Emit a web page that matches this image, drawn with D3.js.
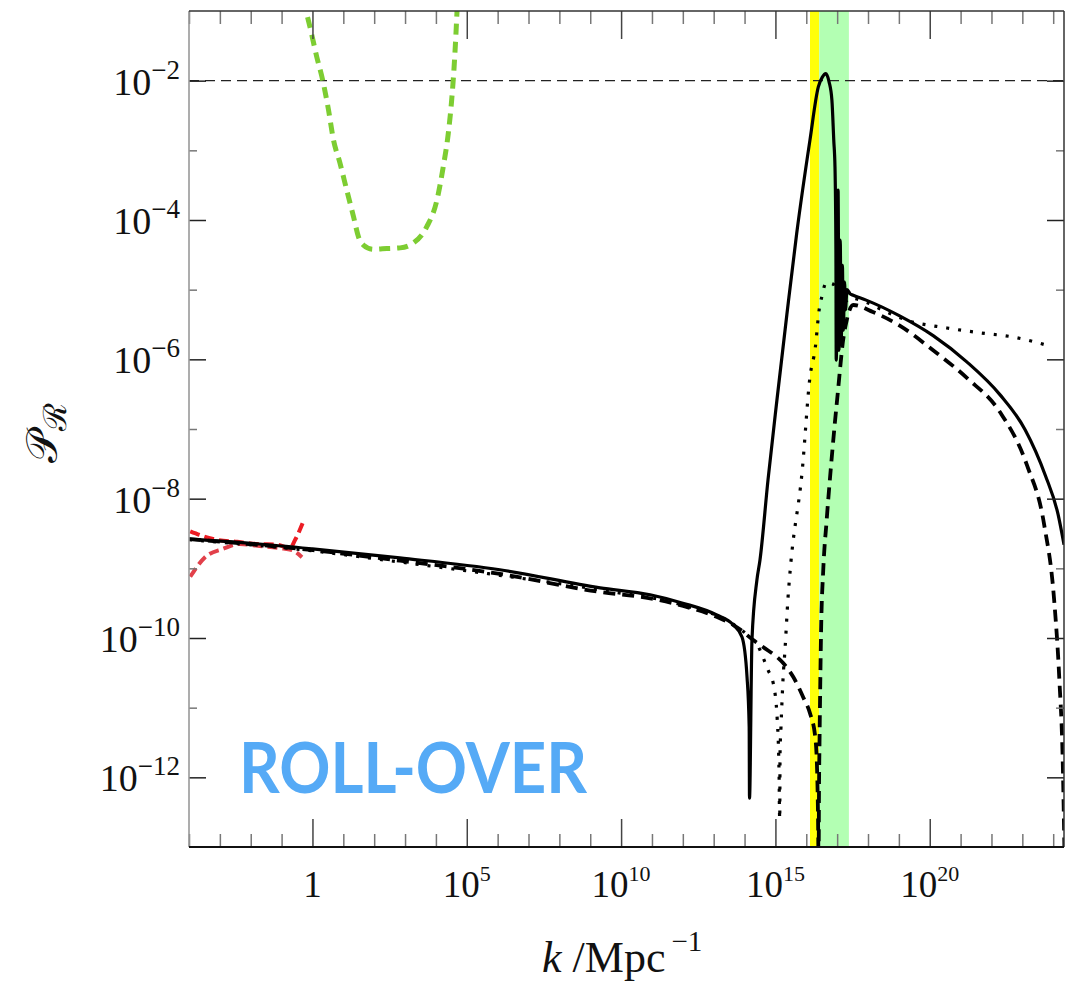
<!DOCTYPE html>
<html><head><meta charset="utf-8">
<script src="https://cdn.jsdelivr.net/npm/d3@7"></script>
<style>body{margin:0;background:#fff}</style>
</head><body>
<svg id="c" width="1066" height="986"></svg>
<script>
// ---- data (log10 k, log10 P) ----
const solidCurve = [[-4.0,-8.58],[-2.0,-8.64],[0.0,-8.72],[2.83,-8.85],[6.07,-9.02],[9.32,-9.28],[10.94,-9.38],[12.0,-9.50],[13.1,-9.67],[13.63,-9.81],[13.92,-9.99],[14.08,-10.56],[14.15,-11.28],[14.16,-12.30],[14.24,-10.03],[14.40,-9.17],[14.50,-8.88],[14.76,-7.73],[15.05,-6.58],[15.37,-5.36],[15.69,-4.19],[16.12,-2.85],[16.39,-2.09],[16.52,-1.95],[16.63,-1.90],[16.74,-2.02],[16.83,-2.28],[16.89,-2.85],[16.93,-3.24],[16.96,-4.43],[16.97,-6.01],[17.03,-3.57],[17.06,-5.87],[17.10,-4.29],[17.13,-5.79],[17.17,-4.65],[17.20,-5.58],[17.24,-4.89],[17.27,-5.29],[17.32,-5.00],[17.42,-5.06],[17.52,-5.08],[17.94,-5.15],[19.04,-5.38],[20.11,-5.66],[21.21,-6.04],[22.28,-6.51],[23.09,-7.01],[23.74,-7.66],[24.16,-8.23],[24.35,-8.66]];
const dashedCurve = [[-4.0,-8.58],[0.02,-8.74],[2.84,-8.89],[6.07,-9.08],[9.32,-9.34],[10.94,-9.43],[12.01,-9.54],[13.11,-9.70],[13.63,-9.81],[13.86,-9.88],[14.28,-10.03],[14.60,-10.13],[15.25,-10.36],[15.58,-10.56],[15.90,-10.85],[16.12,-11.08],[16.29,-11.42],[16.35,-11.89],[16.38,-12.54],[16.40,-13.3],[16.41,-12.33],[16.43,-11.46],[16.45,-10.75],[16.48,-9.89],[16.55,-9.02],[16.66,-8.31],[16.79,-7.59],[16.92,-6.94],[17.03,-6.44],[17.10,-6.11],[17.18,-5.77],[17.31,-5.44],[17.52,-5.22],[18.16,-5.32],[19.04,-5.52],[20.11,-5.87],[21.21,-6.27],[22.28,-6.76],[23.15,-7.52],[23.71,-8.38],[24.03,-9.45],[24.20,-10.60],[24.31,-11.79],[24.37,-13.19]];
const dottedCurve = [[-4.0,-8.59],[0.02,-8.75],[2.84,-8.91],[6.07,-9.10],[9.32,-9.31],[12.01,-9.53],[13.63,-9.80],[14.18,-9.99],[14.40,-10.09],[14.76,-10.46],[14.93,-10.65],[15.06,-11.18],[15.12,-12.0],[15.13,-12.45],[15.14,-12.6],[15.15,-11.65],[15.18,-11.28],[15.25,-10.56],[15.31,-10.17],[15.41,-9.41],[15.48,-9.02],[15.87,-7.59],[16.12,-6.25],[16.29,-5.84],[16.42,-5.28],[16.51,-5.09],[16.64,-4.90],[16.87,-4.92],[17.03,-5.11],[17.23,-5.18],[17.42,-5.12],[17.94,-5.18],[18.55,-5.31],[19.27,-5.44],[20.56,-5.55],[21.64,-5.62],[22.71,-5.68],[23.97,-5.82]];
const redUpper = [[-3.96,-8.47],[-3.22,-8.58],[-2.44,-8.62],[-1.79,-8.65],[-1.15,-8.66],[-0.73,-8.71],[-0.56,-8.59],[-0.30,-8.33]];
const redLower = [[-3.96,-9.12],[-3.48,-8.84],[-2.90,-8.72],[-2.35,-8.65],[-1.70,-8.68],[-1.05,-8.71],[-0.66,-8.74],[-0.34,-8.84]];
const greenCurve = [[-0.30,-0.84],[-0.08,-1.23],[0.14,-1.66],[0.33,-1.99],[0.52,-2.42],[0.68,-2.85],[0.89,-3.18],[1.11,-3.57],[1.33,-3.95],[1.49,-4.24],[1.65,-4.36],[1.97,-4.42],[2.41,-4.41],[2.84,-4.40],[3.27,-4.33],[3.70,-4.10],[4.03,-3.72],[4.24,-3.23],[4.40,-2.76],[4.51,-2.28],[4.59,-1.80],[4.65,-1.32],[4.70,-0.84]];
const yellowBand = [1.32e16, 2.63e16];
const greenBand = [2.63e16, 2.4e17];
const refLevel = 1e-2;
const xTickExponents = [0, 5, 10, 15, 20];
const xTickLabels = ["1", "10|5", "10|10", "10|15", "10|20"];
const yTickExponents = [-2, -4, -6, -8, -10, -12];
const yTickLabels = ["10|−2", "10|−4", "10|−6", "10|−8", "10|−10", "10|−12"];
const annotation = "ROLL-OVER";

// ---- drawing ----
const svg = d3.select("#c");
const L = 189, R = 1064, T = 11, B = 847;
const x = d3.scaleLog().domain([1e-4, Math.pow(10, 24.35)]).range([L, R]);
const y = d3.scaleLog().domain([1e-13, 1e-1]).range([B, T]);

svg.append("defs").append("clipPath").attr("id", "clip")
  .append("rect").attr("x", L).attr("y", T).attr("width", R - L).attr("height", B - T);

const g = svg.append("g").attr("clip-path", "url(#clip)");
g.append("rect").attr("x", x(yellowBand[0])).attr("width", x(yellowBand[1]) - x(yellowBand[0]))
  .attr("y", T).attr("height", B - T).attr("fill", "#ffff0a");
g.append("rect").attr("x", x(greenBand[0])).attr("width", x(greenBand[1]) - x(greenBand[0]))
  .attr("y", T).attr("height", B - T).attr("fill", "#b3ffb3");
g.append("line").attr("x1", L).attr("x2", R).attr("y1", y(refLevel)).attr("y2", y(refLevel))
  .attr("stroke", "#222").attr("stroke-width", 1.2).attr("stroke-dasharray", "10,6");

const line = d3.line().x(d => x(Math.pow(10, d[0]))).y(d => y(Math.pow(10, d[1]))).curve(d3.curveMonotoneX);
function curve(data, color, width, dash, cap) {
  g.append("path").attr("d", line(data)).attr("fill", "none").attr("stroke", color)
    .attr("stroke-width", width).attr("stroke-dasharray", dash || null)
    .attr("stroke-linecap", cap || "butt").attr("stroke-linejoin", "round");
}
curve(greenCurve, "#7dcd32", 5, "11,7");
curve(redLower, "#e2404a", 4, "10,5");
curve(redUpper, "#ec1c24", 4, "10,5");
curve(dottedCurve, "#000", 3.2, "3,9");
curve(dashedCurve, "#000", 3.8, "12,7");
curve(solidCurve, "#000", 3.2);

// axes ticks
const decX = d3.range(-4, 25);
const xMinor = decX.filter(e => e % 5 !== 0).map(e => Math.pow(10, e));
const xMajor = xTickExponents.map(e => Math.pow(10, e));
const decY = d3.range(-12, -1);
const yMinor = decY.filter(e => e % 2 !== 0).map(e => Math.pow(10, e));
const yMajor = yTickExponents.map(e => Math.pow(10, e));
function styleAxis(sel, color) {
  sel.select(".domain").remove();
  sel.selectAll("text").remove();
  sel.selectAll("line").attr("stroke", color).attr("stroke-width", 1.5);
}
const axes = [
  [d3.axisBottom(x).tickValues(xMinor).tickSize(-13), `translate(0,${B})`, "#777"],
  [d3.axisBottom(x).tickValues(xMajor).tickSize(-28), `translate(0,${B})`, "#444"],
  [d3.axisTop(x).tickValues(xMinor).tickSize(-13), `translate(0,${T})`, "#777"],
  [d3.axisTop(x).tickValues(xMajor).tickSize(-28), `translate(0,${T})`, "#444"],
  [d3.axisLeft(y).tickValues(yMinor).tickSize(-8), `translate(${L},0)`, "#777"],
  [d3.axisLeft(y).tickValues(yMajor).tickSize(-17), `translate(${L},0)`, "#222"],
  [d3.axisRight(y).tickValues(yMinor).tickSize(-8), `translate(${R},0)`, "#777"],
  [d3.axisRight(y).tickValues(yMajor).tickSize(-17), `translate(${R},0)`, "#222"]
];
axes.forEach(([ax, tr, col]) => svg.append("g").attr("transform", tr).call(ax.tickFormat("")).call(styleAxis, col));

// frame
svg.append("line").attr("x1", L).attr("x2", L).attr("y1", T).attr("y2", B).attr("stroke", "#999").attr("stroke-width", 1.6);
svg.append("line").attr("x1", L).attr("x2", R).attr("y1", T).attr("y2", T).attr("stroke", "#333").attr("stroke-width", 1.5);
svg.append("line").attr("x1", R).attr("x2", R).attr("y1", T).attr("y2", B).attr("stroke", "#333").attr("stroke-width", 1.5);
svg.append("line").attr("x1", L).attr("x2", R).attr("y1", B).attr("y2", B).attr("stroke", "#111").attr("stroke-width", 2);

// tick labels
const serif = "Liberation Serif, Times New Roman, serif";
xTickExponents.forEach((e, i) => {
  const parts = xTickLabels[i].split("|");
  const t = svg.append("text").attr("x", x(Math.pow(10, e))).attr("y", 897)
    .attr("text-anchor", "middle").attr("font-family", serif).attr("font-size", 37).attr("fill", "#111");
  t.append("tspan").text(parts[0]);
  if (parts[1]) t.append("tspan").attr("dy", -16).attr("font-size", 22).text(parts[1]);
});
yTickExponents.forEach((e, i) => {
  const parts = yTickLabels[i].split("|");
  const t = svg.append("text").attr("x", 180).attr("y", y(Math.pow(10, e)) + 14)
    .attr("text-anchor", "end").attr("font-family", serif).attr("font-size", 38).attr("fill", "#111");
  t.append("tspan").text(parts[0]);
  t.append("tspan").attr("dy", -16).attr("font-size", 27).text(parts[1]);
});

// axis titles
const xt = svg.append("text").attr("x", 542).attr("y", 972).attr("font-family", serif).attr("font-size", 44).attr("fill", "#111");
xt.append("tspan").attr("font-style", "italic").text("k");
xt.append("tspan").text(" /Mpc");
xt.append("tspan").attr("dx", 6).attr("dy", -21).attr("font-size", 29).text("−1");

const yt = svg.append("text").attr("transform", "translate(57,463) rotate(-90)")
  .attr("font-family", "DejaVu Serif, serif").attr("font-size", 44).attr("fill", "#111");
yt.append("tspan").text("𝒫");
yt.append("tspan").attr("dy", 9).attr("font-size", 32).text("ℛ");

// annotation
svg.append("text").attr("x", 239).attr("y", 793).attr("font-family", "Lato, Open Sans, sans-serif")
  .attr("font-size", 71).attr("font-weight", 700).attr("fill", "#55aaf6").attr("textLength", 348).attr("lengthAdjust", "spacingAndGlyphs")
  .text(annotation);
</script>
</body></html>
